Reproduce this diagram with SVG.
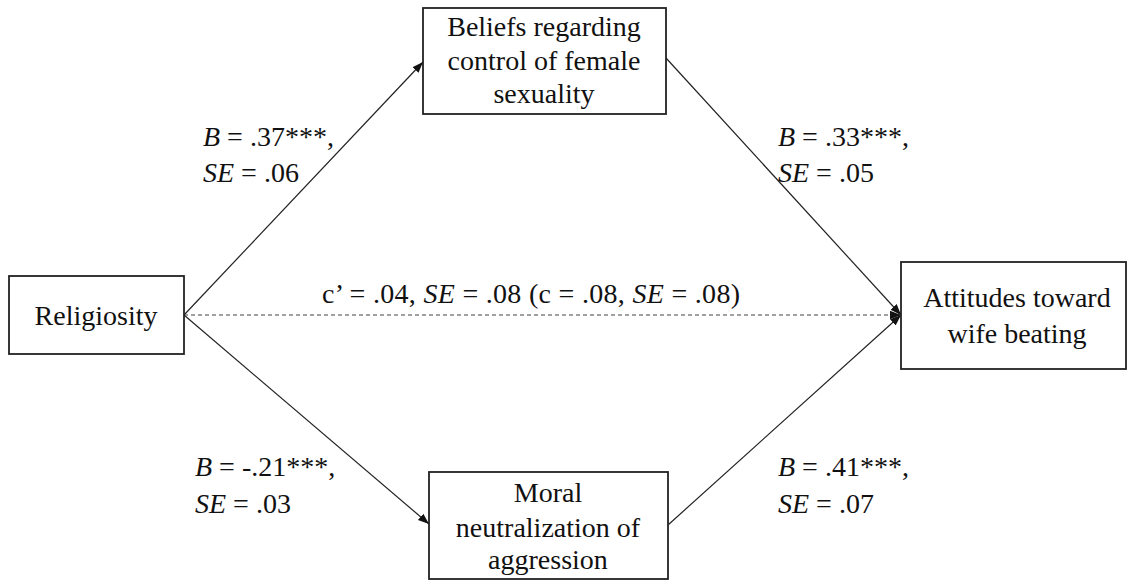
<svg xmlns="http://www.w3.org/2000/svg" width="1129" height="581" viewBox="0 0 1129 581">
<style>
.box{fill:#fff;stroke:#222;stroke-width:1.8}
text{font-family:'Liberation Serif','Times New Roman',serif;font-size:28px;fill:#111}
.c{text-anchor:middle}
.ln{stroke:#222;stroke-width:1.2;fill:none}
.dash{stroke:#444;stroke-width:1.2;stroke-dasharray:4 3;fill:none}
</style>
<defs>
<marker id="ah" viewBox="0 0 10 10" refX="10" refY="5" markerWidth="11" markerHeight="11" markerUnits="userSpaceOnUse" orient="auto">
<path d="M0,1.2 L10,5 L0,8.8 Z" fill="#111"/>
</marker>
</defs>
<rect width="1129" height="581" fill="#fff"/>
<g id="connectors">
<line class="ln" x1="184" y1="315" x2="423" y2="62" marker-end="url(#ah)"/>
<line class="ln" x1="184" y1="315" x2="429" y2="524" marker-end="url(#ah)"/>
<line class="ln" x1="666" y1="58" x2="901" y2="315" marker-end="url(#ah)"/>
<line class="ln" x1="668" y1="525" x2="901" y2="315" marker-end="url(#ah)"/>
<line class="dash" x1="184" y1="315" x2="901" y2="315" marker-end="url(#ah)"/>
</g>
<g id="religiosity">
<rect class="box" x="9" y="276" width="175" height="78"/>
<text class="c" x="96" y="325">Religiosity</text>
</g>
<g id="beliefs">
<rect class="box" x="423" y="8" width="243" height="106"/>
<text class="c" x="544" y="36">Beliefs regarding</text>
<text class="c" x="544" y="70">control of female</text>
<text class="c" x="544" y="103">sexuality</text>
</g>
<g id="moral">
<rect class="box" x="429" y="472" width="239" height="107"/>
<text class="c" x="548" y="502">Moral</text>
<text class="c" x="548" y="537">neutralization of</text>
<text class="c" x="548" y="569">aggression</text>
</g>
<g id="attitudes">
<rect class="box" x="901" y="262" width="225" height="107"/>
<text class="c" x="1017" y="307">Attitudes toward</text>
<text class="c" x="1017" y="343">wife beating</text>
</g>
<g id="labels">
<text x="203" y="146"><tspan font-style="italic">B</tspan> = .37***,</text>
<text x="203" y="182"><tspan font-style="italic">SE</tspan> = .06</text>
<text x="778" y="146"><tspan font-style="italic">B</tspan> = .33***,</text>
<text x="778" y="182"><tspan font-style="italic">SE</tspan> = .05</text>
<text x="195" y="476"><tspan font-style="italic">B</tspan> = -.21***,</text>
<text x="195" y="513"><tspan font-style="italic">SE</tspan> = .03</text>
<text x="778" y="476"><tspan font-style="italic">B</tspan> = .41***,</text>
<text x="778" y="513"><tspan font-style="italic">SE</tspan> = .07</text>
<text x="322" y="303" textLength="418" lengthAdjust="spacing">c’ = .04, <tspan font-style="italic">SE</tspan> = .08 (c = .08, <tspan font-style="italic">SE</tspan> = .08)</text>
</g>
</svg>
